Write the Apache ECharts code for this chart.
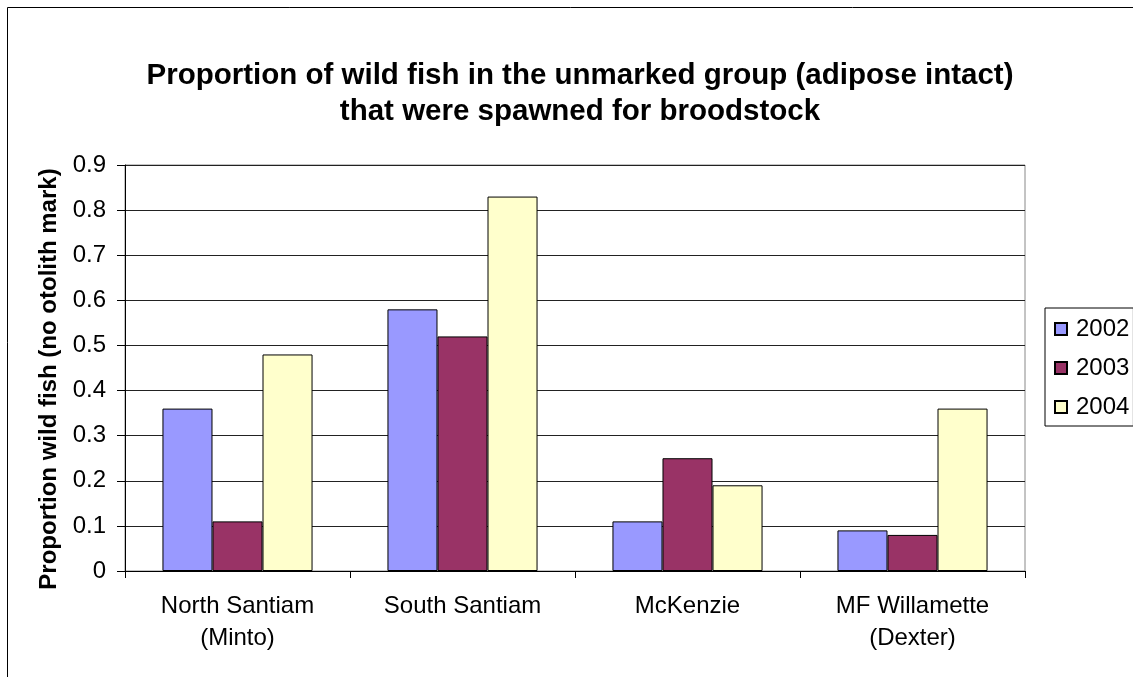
<!DOCTYPE html>
<html>
<head>
<meta charset="utf-8">
<script src="https://cdn.jsdelivr.net/npm/echarts@6/dist/echarts.min.js"></script>
<style>
  html, body { margin: 0; padding: 0; background: #fff; }
  #chart { width: 1133px; height: 677px; }
</style>
</head>
<body>
<div id="chart"></div>
<script>
// rivers / hatcheries
const categories = ['North Santiam\n(Minto)', 'South Santiam', 'McKenzie', 'MF Willamette\n(Dexter)'];
const years = ['2002', '2003', '2004'];
const values2002 = [0.36, 0.58, 0.11, 0.09];
const values2003 = [0.11, 0.52, 0.25, 0.08];
const values2004 = [0.48, 0.83, 0.19, 0.36];
const yTicks = [0, 0.1, 0.2, 0.3, 0.4, 0.5, 0.6, 0.7, 0.8, 0.9];

const colors = ['#9999FF', '#993366', '#FFFFCC'];
const font = 'Liberation Sans, Arial, sans-serif';

let chart = echarts.init(document.getElementById('chart'));

function barSeries (name, data, i) {
  return {
    name: name,
    type: 'bar',
    data: data,
    barGap: '0%',
    barCategoryGap: '33.3%',
    itemStyle: {
      color: colors[i],
      borderColor: '#000',
      borderWidth: 1
    }
  };
}

chart.setOption({
  animation: false,
  textStyle: { fontFamily: font },
  title: {
    text: 'Proportion of wild fish in the unmarked group (adipose intact)\nthat were spawned for broodstock',
    left: 575,
    textAlign: 'center',
    top: 53,
    textStyle: {
      fontFamily: font,
      fontSize: 29.5,
      fontWeight: 'bold',
      color: '#000',
      lineHeight: 36
    }
  },
  graphic: [{
    type: 'rect',
    shape: { x: 7.5, y: 7.5, width: 1200, height: 700 },
    style: { fill: 'none', stroke: '#000', lineWidth: 1 },
    silent: true
  }],
  legend: {
    orient: 'vertical',
    left: 1045,
    top: 308,
    data: years,
    icon: 'rect',
    itemWidth: 12,
    itemHeight: 12,
    itemGap: 15,
    padding: [9, 4, 7, 9],
    borderColor: '#000',
    borderWidth: 1,
    textStyle: { fontFamily: font, fontSize: 24, color: '#000', padding: [0, 0, 0, 4] }
  },
  grid: {
    left: 125,
    right: 108,
    top: 165,
    bottom: 106,
    show: true,
    borderColor: '#888',
    borderWidth: 1
  },
  xAxis: {
    type: 'category',
    data: categories,
    axisLine: { lineStyle: { color: '#000', width: 1 } },
    axisTick: { show: true, length: 7, lineStyle: { color: '#000' } },
    axisLabel: {
      fontFamily: font,
      fontSize: 24,
      color: '#000',
      lineHeight: 32,
      margin: 19,
      interval: 0
    }
  },
  yAxis: {
    type: 'value',
    min: yTicks[0],
    max: yTicks[yTicks.length - 1],
    interval: 0.1,
    name: 'Proportion wild fish (no otolith mark)',
    nameLocation: 'middle',
    nameGap: 63,
    nameTextStyle: { fontFamily: font, fontSize: 24, fontWeight: 'bold', color: '#000', padding: [0, 22, 0, 0] },
    axisLine: { show: true, lineStyle: { color: '#000', width: 1 } },
    axisTick: { show: true, length: 8, lineStyle: { color: '#000' } },
    splitLine: { show: true, lineStyle: { color: '#222', width: 1 } },
    axisLabel: {
      fontFamily: font,
      fontSize: 24,
      color: '#000',
      margin: 19,
      formatter: function (v) { return String(Math.round(v * 10) / 10); }
    }
  },
  series: [
    barSeries(years[0], values2002, 0),
    barSeries(years[1], values2003, 1),
    barSeries(years[2], values2004, 2)
  ]
});
</script>
</body>
</html>
